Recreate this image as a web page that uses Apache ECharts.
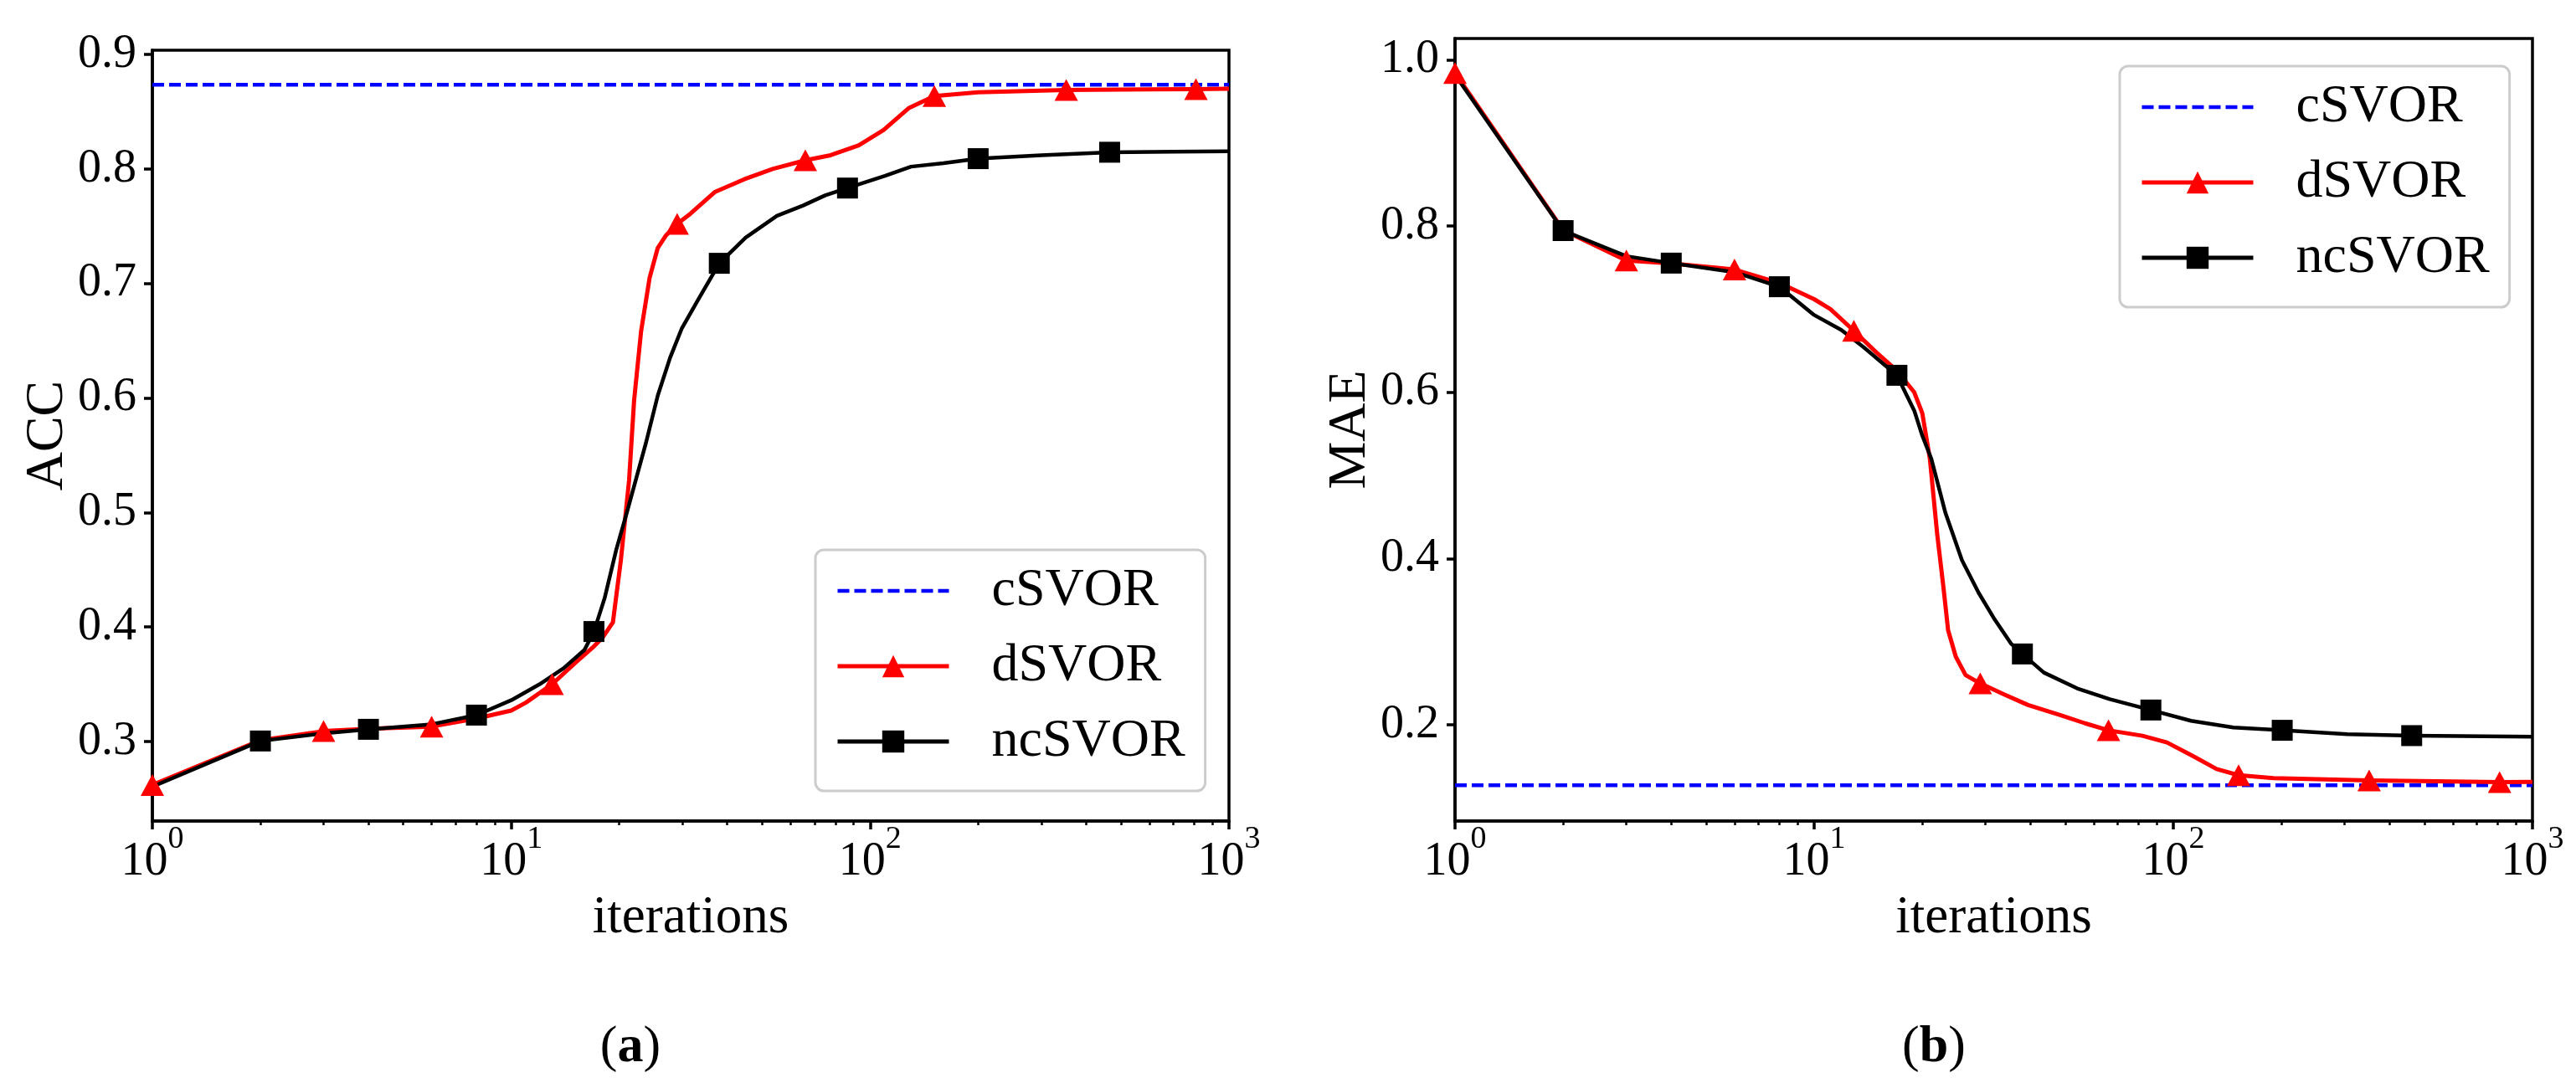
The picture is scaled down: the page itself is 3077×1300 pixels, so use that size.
<!DOCTYPE html>
<html><head><meta charset="utf-8">
<script src="https://cdn.jsdelivr.net/npm/echarts@6/dist/echarts.min.js"></script>
<style>html,body{margin:0;padding:0;background:#fff}#c{width:3077px;height:1300px}</style>
</head><body><div id="c"></div>
<script>
// ---------- data ----------
const seriesNames = ['cSVOR', 'dSVOR', 'ncSVOR'];

// (a) ACC
const accC = 0.8735;
const accIterD = [1, 2, 3, 4, 6, 8, 10, 11, 13, 15, 17, 18, 19.2, 20.2, 21.3, 22, 23, 24.3, 25.6, 27, 29, 31.6, 37, 44.6, 53.5, 66, 77.6, 93, 109, 128, 151, 200, 352, 600, 809, 1000];
const accD = [0.262, 0.301, 0.309, 0.311, 0.313, 0.320, 0.327, 0.334, 0.350, 0.368, 0.383, 0.391, 0.404, 0.458, 0.528, 0.598, 0.658, 0.705, 0.731, 0.742, 0.752, 0.761, 0.780, 0.791, 0.800, 0.8076, 0.812, 0.8207, 0.834, 0.853, 0.8636, 0.867, 0.869, 0.8695, 0.8698, 0.870];
const accMarkD = [1, 3, 6, 13, 29, 66, 151, 352, 809];
const accIterN = [1, 2, 3, 4, 6, 8, 10, 12, 14, 16, 17, 18.2, 19.6, 21, 23.7, 25.6, 27.7, 29.9, 33.2, 38, 45, 55, 65, 75, 86.5, 110, 130, 160, 200, 300, 465, 700, 1000];
const accN = [0.2605, 0.3004, 0.307, 0.3106, 0.315, 0.323, 0.336, 0.350, 0.364, 0.380, 0.396, 0.425, 0.467, 0.50, 0.56, 0.602, 0.635, 0.661, 0.686, 0.7176, 0.740, 0.759, 0.768, 0.777, 0.7833, 0.794, 0.802, 0.805, 0.809, 0.812, 0.8146, 0.815, 0.8155];
const accMarkN = [2, 4, 8, 17, 38, 86.5, 200, 465];
const accTicks = [0.3, 0.4, 0.5, 0.6, 0.7, 0.8, 0.9];

// (b) MAE
const maeC = 0.1275;
const maeIterD = [1, 2, 3, 4, 6, 8, 10, 11.1, 12.9, 14.9, 17, 19, 20, 21, 22, 22.9, 23.6, 24.8, 26.4, 29, 33.7, 39.4, 48.4, 56.8, 66, 82, 96, 113, 132, 152, 190, 351, 600, 810, 1000];
const maeD = [0.984, 0.795, 0.7586, 0.755, 0.7477, 0.7316, 0.712, 0.700, 0.674, 0.648, 0.626, 0.600, 0.575, 0.520, 0.430, 0.366, 0.314, 0.282, 0.260, 0.250, 0.237, 0.224, 0.212, 0.202, 0.1936, 0.187, 0.179, 0.163, 0.147, 0.1396, 0.136, 0.1332, 0.132, 0.1313, 0.1315];
const maeMarkD = [1, 3, 6, 12.9, 29, 66, 152, 351, 810];
const maeIterN = [1, 2, 3, 4, 6, 8, 10, 11.9, 13.7, 17, 19, 20, 21.2, 23.2, 25.8, 28.7, 31.8, 35.3, 38, 43.6, 54, 66.5, 86.6, 112, 147, 201, 305, 461, 1000];
const maeN = [0.982, 0.7945, 0.7637, 0.7554, 0.7445, 0.727, 0.693, 0.675, 0.6546, 0.6205, 0.578, 0.548, 0.520, 0.455, 0.398, 0.359, 0.327, 0.298, 0.2854, 0.263, 0.244, 0.231, 0.218, 0.205, 0.197, 0.1936, 0.189, 0.1872, 0.1859];
const maeMarkN = [2, 4, 8, 17, 38, 86.6, 201, 461];
const maeTicks = [0.2, 0.4, 0.6, 0.8, 1.0];

const xRange = [1, 1000];
const minorTickVals = [2,3,4,5,6,7,8,9,20,30,40,50,60,70,80,90,200,300,400,500,600,700,800,900];

// ---------- styling ----------
const FONT = 'Liberation Serif';
const BLACK = '#000000', RED = '#ff0000', BLUE = '#0000ff';

function build(xs, ys, marks) {
  return xs.map((x, i) => marks.indexOf(x) >= 0 ? [x, ys[i]] : { value: [x, ys[i]], symbol: 'none' });
}

function logXAxis(g) {
  return {
    type: 'log', logBase: 10, gridIndex: g, min: xRange[0], max: xRange[1], splitNumber: 3,
    axisLine: { show: true, lineStyle: { color: BLACK, width: 3.5 } },
    axisTick: { show: true, inside: false, length: 10, lineStyle: { color: BLACK, width: 3.5 } },
    splitLine: { show: false },
    axisLabel: {
      showMinLabel: true, showMaxLabel: true, margin: 3,
      formatter: v => '{b|10}{s|' + Math.round(Math.log10(v)) + '}',
      rich: {
        b: { fontFamily: FONT, fontSize: 56, lineHeight: 92, color: BLACK },
        s: { fontFamily: FONT, fontSize: 38, lineHeight: 38, verticalAlign: 'top', color: BLACK }
      }
    },
    name: 'iterations', nameLocation: 'middle', nameGap: 85,
    nameTextStyle: { fontFamily: FONT, fontSize: 63, color: BLACK }
  };
}
function minorXAxis(g) {
  return {
    type: 'value', gridIndex: g, min: 0, max: 3, position: 'bottom',
    axisLine: { show: false },
    axisTick: { show: true, inside: false, length: 5, customValues: minorTickVals.map(v => Math.log10(v)), lineStyle: { color: BLACK, width: 2.5 } },
    axisLabel: { show: false }, splitLine: { show: false }
  };
}
function yAxis(g, min, max, ticks, name) {
  return {
    type: 'value', gridIndex: g, min: min, max: max,
    axisLine: { show: true, lineStyle: { color: BLACK, width: 3.5 } },
    axisTick: { show: true, inside: false, length: 10, customValues: ticks, lineStyle: { color: BLACK, width: 3.5 } },
    axisLabel: { customValues: ticks, formatter: v => v.toFixed(1), fontFamily: FONT, fontSize: 56, color: BLACK, margin: 19 },
    splitLine: { show: false },
    name: name, nameLocation: 'middle', nameGap: 93,
    nameTextStyle: { fontFamily: FONT, fontSize: 64, color: BLACK }
  };
}
function legend(left, top) {
  return {
    orient: 'vertical', left: left, top: top,
    itemWidth: 133, itemHeight: 33, itemGap: 26,
    padding: [17, 24, 27, 24],
    borderColor: '#cccccc', borderWidth: 3, borderRadius: 10,
    backgroundColor: 'rgba(255,255,255,0.8)',
    textStyle: { fontFamily: FONT, fontSize: 64, lineHeight: 64, color: BLACK, padding: [0, 0, 0, 46] },
    lineStyle: { width: 5 },
    data: [
      { name: seriesNames[0], itemStyle: { opacity: 0 }, lineStyle: { width: 4.5 } },
      { name: seriesNames[1] },
      { name: seriesNames[2] }
    ],
    selectedMode: false
  };
}
function seriesSet(xi, yi, cVal, xd, yd, md, xn, yn, mn) {
  return [
    { name: seriesNames[0], type: 'line', xAxisIndex: xi, yAxisIndex: yi,
      data: [[xRange[0], cVal], [xRange[1], cVal]], symbol: 'none',
      lineStyle: { color: BLUE, width: 4.5, type: [14, 6] }, itemStyle: { color: BLUE } },
    { name: seriesNames[1], type: 'line', xAxisIndex: xi, yAxisIndex: yi,
      data: build(xd, yd, md), symbol: 'triangle', symbolSize: [28, 26], showAllSymbol: true,
      smooth: false,
      lineStyle: { color: RED, width: 5, join: 'round' }, itemStyle: { color: RED } },
    { name: seriesNames[2], type: 'line', xAxisIndex: xi, yAxisIndex: yi,
      data: build(xn, yn, mn), symbol: 'rect', symbolSize: 25, showAllSymbol: true,
      smooth: false,
      lineStyle: { color: BLACK, width: 4.5, join: 'round' }, itemStyle: { color: BLACK } }
  ];
}

const chart = echarts.init(document.getElementById('c'), null, { renderer: 'canvas' });
chart.setOption({
  animation: false,
  backgroundColor: '#ffffff',
  grid: [
    { left: 182, top: 60, width: 1286, height: 921, show: true, borderColor: BLACK, borderWidth: 3.5, containLabel: false },
    { left: 1738, top: 46, width: 1287, height: 935, show: true, borderColor: BLACK, borderWidth: 3.5, containLabel: false }
  ],
  xAxis: [logXAxis(0), minorXAxis(0), logXAxis(1), minorXAxis(1)],
  yAxis: [yAxis(0, 0.2305, 0.9037, accTicks, 'ACC'), yAxis(1, 0.0845, 1.0255, maeTicks, 'MAE')],
  legend: [legend(974, 657), legend(2532, 79)],
  series: [].concat(
    seriesSet(0, 0, accC, accIterD, accD, accMarkD, accIterN, accN, accMarkN),
    seriesSet(2, 1, maeC, maeIterD, maeD, maeMarkD, maeIterN, maeN, maeMarkN)
  ),
  graphic: [
    { type: 'text', x: 753, y: 1252, style: { text: '({b|a})', fontFamily: FONT, fontSize: 62, fill: BLACK, align: 'center', verticalAlign: 'middle',
      rich: { b: { fontFamily: FONT, fontSize: 62, fontWeight: 'bold', fill: BLACK } } } },
    { type: 'text', x: 2310, y: 1252, style: { text: '({b|b})', fontFamily: FONT, fontSize: 62, fill: BLACK, align: 'center', verticalAlign: 'middle',
      rich: { b: { fontFamily: FONT, fontSize: 62, fontWeight: 'bold', fill: BLACK } } } }
  ]
});
</script>
</body></html>
